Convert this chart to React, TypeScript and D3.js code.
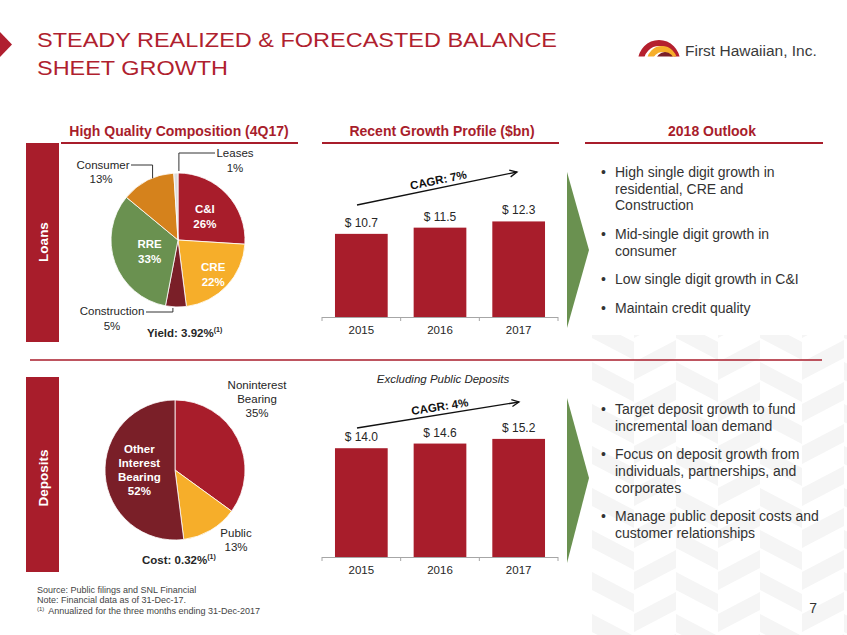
import React from "react";
import * as d3 from "d3";

// ---------- data ----------
const loanCategories = ["C&I", "CRE", "Construction", "RRE", "Consumer", "Leases"];
const loanShares = [26, 22, 5, 33, 13, 1];
const depositCategories = ["Noninterest Bearing", "Public", "Other Interest Bearing"];
const depositShares = [35, 13, 52];
const years = ["2015", "2016", "2017"];
const loanBalances = [10.7, 11.5, 12.3];
const depositBalances = [14.0, 14.6, 15.2];
const loanCagr = "CAGR: 7%";
const depositCagr = "CAGR: 4%";
const loanYield = "Yield: 3.92%";
const depositCost = "Cost: 0.32%";
const loanOutlook = [
  ["High single digit growth in", "residential, CRE and", "Construction"],
  ["Mid-single digit growth in", "consumer"],
  ["Low single digit growth in C&I"],
  ["Maintain credit quality"],
];
const depositOutlook = [
  ["Target deposit growth to fund", "incremental loan demand"],
  ["Focus on deposit growth from", "individuals, partnerships, and", "corporates"],
  ["Manage public deposit costs and", "customer relationships"],
];
const footnotes = [
  "Source: Public filings and SNL Financial",
  "Note: Financial data as of 31-Dec-17.",
  "Annualized for the three months ending 31-Dec-2017",
];

// ---------- styles ----------
const FONT = "'Liberation Sans', Arial, Helvetica, sans-serif";
const RED = "#a81d2b";
const TITLE_RED = "#b01f2f";
const YELLOW = "#f6ae2a";
const MAROON = "#7a1f28";
const GREEN = "#6a9150";
const ORANGE = "#d5821c";
const GRAY = "#dcdcdc";
const TEXT = "#262626";
const loanColors = [RED, YELLOW, MAROON, GREEN, ORANGE, GRAY];
const depositColors = [RED, YELLOW, MAROON];

const PX_PER_BN = 7.77;

type PieProps = { cx: number; cy: number; r: number; values: number[]; colors: string[] };
function PieChart({ cx, cy, r, values, colors }: PieProps) {
  const arcs = d3.pie<number>().sort(null).value((d) => d)(values);
  const gen = d3.arc<d3.PieArcDatum<number>>().innerRadius(0).outerRadius(r);
  return (
    <g transform={`translate(${cx},${cy})`}>
      {arcs.map((a, i) => (
        <path key={i} d={gen(a) || ""} fill={colors[i]} stroke="#fff" strokeWidth={0.8} />
      ))}
    </g>
  );
}

function pieArcs(values: number[]) {
  return d3.pie<number>().sort(null).value((d) => d)(values);
}
function centroidAt(a: d3.PieArcDatum<number>, rad: number) {
  return d3.arc<d3.PieArcDatum<number>>().innerRadius(rad).outerRadius(rad).centroid(a);
}

type BarProps = {
  values: number[];
  x0: number;
  x1: number;
  baseline: number;
  arrow: [number, number, number, number];
  cagr: string;
};
function BarChart({ values, x0, x1, baseline, arrow, cagr }: BarProps) {
  const x = d3.scaleBand<string>().domain(years).range([x0, x1]).paddingInner(0.33).paddingOuter(0.165);
  const y = d3.scaleLinear().domain([0, 20]).range([baseline, baseline - 20 * PX_PER_BN]);
  const ticks = d3.range(years.length + 1).map((i) => x0 + i * ((x1 - x0) / years.length));
  const [ax1, ay1, ax2, ay2] = arrow;
  const ang = (Math.atan2(ay2 - ay1, ax2 - ax1) * 180) / Math.PI;
  const mx = (ax1 + ax2) / 2 + 3;
  const my = ay1 + ((mx - ax1) * (ay2 - ay1)) / (ax2 - ax1);
  const head = 8;
  const rad = Math.atan2(ay2 - ay1, ax2 - ax1);
  const h1 = [ax2 - head * Math.cos(rad - 0.45), ay2 - head * Math.sin(rad - 0.45)];
  const h2 = [ax2 - head * Math.cos(rad + 0.45), ay2 - head * Math.sin(rad + 0.45)];
  return (
    <g>
      {values.map((v, i) => (
        <g key={i}>
          <rect x={x(years[i])} y={y(v)} width={x.bandwidth()} height={baseline - y(v)} fill={RED} />
          <text
            x={(x(years[i]) || 0) + x.bandwidth() / 2}
            y={y(v) - 7}
            textAnchor="middle"
            fontSize={12}
            fill={TEXT}
          >
            {`$ ${v.toFixed(1)}`}
          </text>
          <text
            x={(x(years[i]) || 0) + x.bandwidth() / 2}
            y={baseline + 17}
            textAnchor="middle"
            fontSize={11.5}
            fill={TEXT}
          >
            {years[i]}
          </text>
        </g>
      ))}
      <line x1={x0} x2={x1} y1={baseline + 0.5} y2={baseline + 0.5} stroke="#a6a6a6" strokeWidth={1} />
      {ticks.map((t, i) => (
        <line key={i} x1={t} x2={t} y1={baseline} y2={baseline + 4} stroke="#a6a6a6" strokeWidth={1} />
      ))}
      <line x1={ax1} y1={ay1} x2={ax2} y2={ay2} stroke="#111" strokeWidth={1.3} />
      <polyline
        points={`${h1[0]},${h1[1]} ${ax2},${ay2} ${h2[0]},${h2[1]}`}
        fill="none"
        stroke="#111"
        strokeWidth={1.3}
      />
      <text
        transform={`translate(${mx},${my}) rotate(${ang})`}
        y={-4}
        textAnchor="middle"
        fontSize={11.5}
        fontWeight="bold"
        fill="#111"
      >
        {cagr}
      </text>
    </g>
  );
}

function Bullets({ groups, x, y0 }: { groups: string[][]; x: number; y0: number }) {
  const LH = 16.6;
  const GAP = 28.8;
  let y = y0;
  const out: JSX.Element[] = [];
  groups.forEach((g, gi) => {
    out.push(
      <text key={`b${gi}`} x={x} y={y} fontSize={14} fill="#333">
        •
      </text>
    );
    g.forEach((line, li) => {
      out.push(
        <text key={`t${gi}-${li}`} x={x + 14} y={y} fontSize={14} fill="#333">
          {line}
        </text>
      );
      if (li < g.length - 1) y += LH;
    });
    y += GAP;
  });
  return <g>{out}</g>;
}

function Watermark() {
  const items: JSX.Element[] = [];
  const colW = 42;
  for (let c = 0; c < 7; c++) {
    const x0 = 592 + c * colW;
    const dir = c % 2 === 0 ? 1 : -1;
    for (let r = -2; r < 10; r++) {
      const y0 = 320 + r * 42;
      const dy = dir * 22;
      const th = 18;
      items.push(
        <polygon
          key={`${c}-${r}`}
          points={`${x0},${y0} ${x0 + colW},${y0 + dy} ${x0 + colW},${y0 + dy + th} ${x0},${y0 + th}`}
          fill="#f5f5f5"
        />
      );
    }
  }
  return (
    <g>
      <defs>
        <clipPath id="wm">
          <rect x={592} y={335} width={255} height={300} />
        </clipPath>
      </defs>
      <g clipPath="url(#wm)">{items}</g>
    </g>
  );
}

function Logo() {
  const clip = "logoClip";
  const ring = (ro: number, ri: number) =>
    d3.arc()({ innerRadius: ri, outerRadius: ro, startAngle: -Math.PI / 2, endAngle: Math.PI / 2 }) || "";
  return (
    <g>
      <defs>
        <clipPath id={clip}>
          <rect x={630} y={30} width={60} height={26.5} />
        </clipPath>
      </defs>
      <g clipPath={`url(#${clip})`}>
        <path d={ring(21, 15)} transform="translate(659,61)" fill="#b5202e" />
        <path d={ring(15, 9)} transform="translate(662,61)" fill={YELLOW} />
        <path d={ring(9, 4)} transform="translate(665,61)" fill={MAROON} />
      </g>
      <text x={685} y={56} fontSize={15.5} fill="#3a3a3a">
        First Hawaiian, Inc.
      </text>
    </g>
  );
}

export default function App() {
  // loans pie geometry
  const lcx = 178, lcy = 240, lr = 67;
  const la = pieArcs(loanShares);
  const labelFrac = [0.55, 0.72, 0, 0.45, 0, 0];
  const edge = (a: d3.PieArcDatum<number>, cx: number, cy: number, r: number) => {
    const m = (a.startAngle + a.endAngle) / 2;
    return [cx + r * Math.sin(m), cy - r * Math.cos(m)];
  };
  const leasesE = edge(la[5], lcx, lcy, lr);
  const consE = edge(la[4], lcx, lcy, lr);
  const constrE = edge(la[2], lcx, lcy, lr);

  // deposits pie geometry
  const dcx = 175, dcy = 470, dr = 70;
  const da = pieArcs(depositShares);
  const otherC = centroidAt(da[2], dr * 0.51);

  return (
    <svg
      width={847}
      height={635}
      style={{ position: "absolute", left: 0, top: 0, background: "#fff" }}
      fontFamily={FONT}
    >
      <rect x={0} y={0} width={847} height={635} fill="#fff" />
      <Watermark />

      {/* title */}
      <polygon points="0,32 12,44.5 0,57" fill={TITLE_RED} />
      <text x={37} y={47} fontSize={20.5} fill={TITLE_RED} textLength={520} lengthAdjust="spacingAndGlyphs">
        STEADY REALIZED &amp; FORECASTED BALANCE
      </text>
      <text x={37} y={75} fontSize={20.5} fill={TITLE_RED} textLength={191} lengthAdjust="spacingAndGlyphs">
        SHEET GROWTH
      </text>
      <Logo />

      {/* section headers */}
      <text x={179} y={136} textAnchor="middle" fontSize={14} fontWeight="bold" fill={RED}>
        High Quality Composition (4Q17)
      </text>
      <text x={442} y={136} textAnchor="middle" fontSize={14} fontWeight="bold" fill={RED}>
        Recent Growth Profile ($bn)
      </text>
      <text x={712} y={136} textAnchor="middle" fontSize={14} fontWeight="bold" fill={RED}>
        2018 Outlook
      </text>
      <line x1={61} x2={298} y1={143} y2={143} stroke={RED} strokeWidth={2} />
      <line x1={322} x2={559} y1={143} y2={143} stroke={RED} strokeWidth={2} />
      <line x1={585} x2={823} y1={143} y2={143} stroke={RED} strokeWidth={2} />

      {/* divider */}
      <line x1={30} x2={822} y1={360} y2={360} stroke={RED} strokeWidth={1.5} />

      {/* side bars */}
      <rect x={26} y={143} width={33} height={199} fill={RED} />
      <text
        transform="translate(47.5,242) rotate(-90)"
        textAnchor="middle"
        fontSize={13.5}
        fontWeight="bold"
        fill="#fff"
      >
        Loans
      </text>
      <rect x={26} y={377} width={33} height={195} fill={RED} />
      <text
        transform="translate(47.5,478) rotate(-90)"
        textAnchor="middle"
        fontSize={13.5}
        fontWeight="bold"
        fill="#fff"
      >
        Deposits
      </text>

      {/* loans pie */}
      <PieChart cx={lcx} cy={lcy} r={lr} values={loanShares} colors={loanColors} />
      {[0, 1, 3].map((i) => {
        const c = centroidAt(la[i], lr * labelFrac[i]);
        return (
          <text key={i} textAnchor="middle" fontSize={11.5} fontWeight="bold" fill="#fff">
            <tspan x={lcx + c[0]} y={lcy + c[1] - 2}>
              {loanCategories[i]}
            </tspan>
            <tspan x={lcx + c[0]} y={lcy + c[1] + 13}>
              {`${loanShares[i]}%`}
            </tspan>
          </text>
        );
      })}
      {/* leases leader */}
      <polyline
        points={`${leasesE[0] + 3},${leasesE[1] - 2} ${leasesE[0] + 3},153 215,153`}
        fill="none"
        stroke="#333"
        strokeWidth={1}
      />
      <text textAnchor="middle" fontSize={11.5} fill={TEXT}>
        <tspan x={235} y={157}>{loanCategories[5]}</tspan>
        <tspan x={235} y={172}>{`${loanShares[5]}%`}</tspan>
      </text>
      {/* consumer leader */}
      <polyline
        points={`${consE[0] + 5},${consE[1] - 2} ${consE[0] + 5},165 131,165`}
        fill="none"
        stroke="#333"
        strokeWidth={1}
      />
      <text textAnchor="middle" fontSize={11.5} fill={TEXT}>
        <tspan x={103} y={169}>{loanCategories[4]}</tspan>
        <tspan x={101} y={183}>{`${loanShares[4]}%`}</tspan>
      </text>
      {/* construction leader */}
      <polyline
        points={`${constrE[0] - 3},${constrE[1] + 1} ${constrE[0] - 3},312 146,312`}
        fill="none"
        stroke="#333"
        strokeWidth={1}
      />
      <text textAnchor="middle" fontSize={11.5} fill={TEXT}>
        <tspan x={112} y={315}>{loanCategories[2]}</tspan>
        <tspan x={112} y={330}>{`${loanShares[2]}%`}</tspan>
      </text>
      <text x={147} y={337} fontSize={11.5} fontWeight="bold" fill={TEXT}>
        {loanYield}
        <tspan fontSize={7} dy={-5}>(1)</tspan>
      </text>

      {/* deposits pie */}
      <PieChart cx={dcx} cy={dcy} r={dr} values={depositShares} colors={depositColors} />
      <text textAnchor="middle" fontSize={11.5} fontWeight="bold" fill="#fff">
        <tspan x={dcx + otherC[0]} y={453}>Other</tspan>
        <tspan x={dcx + otherC[0]} y={467}>Interest</tspan>
        <tspan x={dcx + otherC[0]} y={481}>Bearing</tspan>
        <tspan x={dcx + otherC[0]} y={495}>{`${depositShares[2]}%`}</tspan>
      </text>
      <text textAnchor="middle" fontSize={11.5} fill={TEXT}>
        <tspan x={257} y={389}>Noninterest</tspan>
        <tspan x={257} y={403}>Bearing</tspan>
        <tspan x={257} y={417}>{`${depositShares[0]}%`}</tspan>
      </text>
      <text textAnchor="middle" fontSize={11.5} fill={TEXT}>
        <tspan x={236} y={537}>{depositCategories[1]}</tspan>
        <tspan x={236} y={551}>{`${depositShares[1]}%`}</tspan>
      </text>
      <text x={142} y={564} fontSize={11.5} fontWeight="bold" fill={TEXT}>
        {depositCost}
        <tspan fontSize={7} dy={-5}>(1)</tspan>
      </text>

      {/* bar charts */}
      <BarChart values={loanBalances} x0={322} x1={558} baseline={317} arrow={[357, 205, 517, 172]} cagr={loanCagr} />
      <text x={443} y={383} textAnchor="middle" fontSize={11.5} fontStyle="italic" fill={TEXT}>
        Excluding Public Deposits
      </text>
      <BarChart
        values={depositBalances}
        x0={322}
        x1={558}
        baseline={557}
        arrow={[357, 428, 519, 402]}
        cagr={depositCagr}
      />

      {/* chevrons */}
      <polygon points="567,172 589,250 567,328" fill={GREEN} />
      <polygon points="567,398 589,478 567,563" fill={GREEN} />

      {/* bullets */}
      <Bullets groups={loanOutlook} x={601} y0={177} />
      <Bullets groups={depositOutlook} x={601} y0={414} />

      {/* footnotes */}
      <text x={37} y={593} fontSize={9} fill="#444">{footnotes[0]}</text>
      <text x={37} y={603} fontSize={9} fill="#444">{footnotes[1]}</text>
      <text x={37} y={614} fontSize={9} fill="#444">
        <tspan fontSize={6} dy={-3}>(1)</tspan>
        <tspan dx={4} dy={3}>{footnotes[2]}</tspan>
      </text>
      <text x={817} y={613} textAnchor="end" fontSize={14} fill="#333">
        7
      </text>
    </svg>
  );
}
